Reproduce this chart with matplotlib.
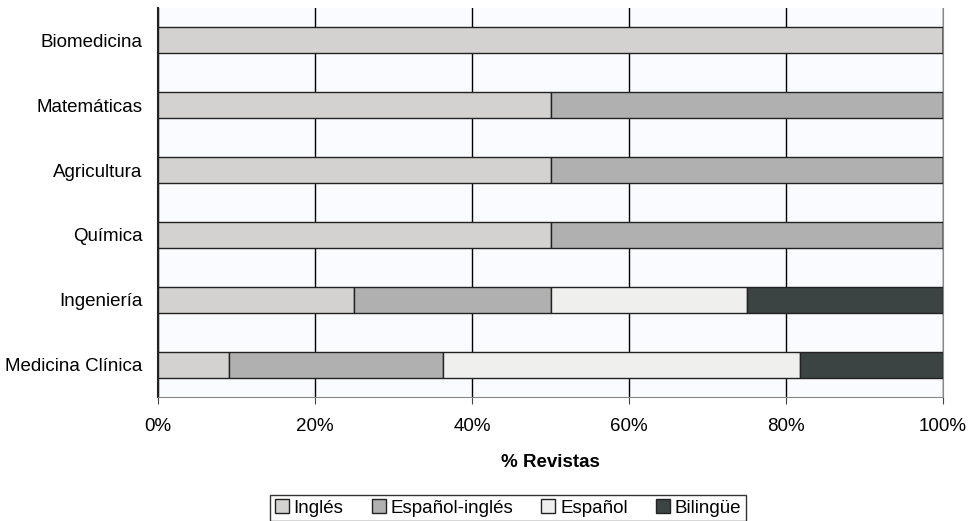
import matplotlib
matplotlib.use("Agg")
import matplotlib.pyplot as plt
import numpy as np

plt.rcParams['font.family'] = ['Liberation Sans', 'DejaVu Sans']

categorias = ["Biomedicina", "Matemáticas", "Agricultura", "Química", "Ingeniería", "Medicina Clínica"]
series = ["Inglés", "Español-inglés", "Español", "Bilingüe"]
ingles = [100, 50, 50, 50, 25, 100 / 11]
espanol_ingles = [0, 50, 50, 50, 25, 300 / 11]
espanol = [0, 0, 0, 0, 25, 500 / 11]
bilingue = [0, 0, 0, 0, 25, 200 / 11]
colores = ["#d4d2d0", "#afb0af", "#eff0ee", "#3b4343"]
xticks = [0, 20, 40, 60, 80, 100]

fig = plt.figure(figsize=(9.8, 5.21), dpi=100)
ax = fig.add_axes([158 / 980, 1 - 397 / 521, 785 / 980, 389 / 521])
ax.set_facecolor("#fafbff")

y = np.arange(len(categorias))[::-1]
left = np.zeros(len(categorias))
for nombre, vals, c in zip(series, [ingles, espanol_ingles, espanol, bilingue], colores):
    vals = np.array(vals)
    ax.barh(y, vals, left=left, height=0.4, color=c, edgecolor="#222222", linewidth=1.0,
            label=nombre, zorder=3)
    left += vals

fs = 13.5
ax.set_xlim(0, 100)
ax.set_ylim(-0.5, 5.5)
ax.set_xticks(xticks)
ax.set_xticklabels([f"{t}%" for t in xticks], fontsize=fs)
ax.set_yticks(y)
ax.set_yticklabels(categorias, fontsize=fs)
ax.tick_params(axis="y", length=0, pad=11)
ax.tick_params(axis="x", length=5, direction="out", color="#444444", pad=10)
ax.xaxis.grid(True, color="black", linewidth=1.0, zorder=0)
ax.set_axisbelow(True)

ax.spines["top"].set_visible(False)
ax.spines["right"].set_color("#888888")
ax.spines["bottom"].set_color("#888888")
ax.spines["left"].set_color("#222222")
ax.spines["left"].set_linewidth(1.5)

ax.set_xlabel("% Revistas", fontsize=fs, fontweight="bold", labelpad=14)

leg = ax.legend(loc="center", bbox_to_anchor=(508 / 980, 1 - 508 / 521), bbox_transform=fig.transFigure,
                ncol=4, frameon=True, fancybox=False, fontsize=fs, handlelength=0.75,
                handleheight=0.75, handletextpad=0.25, columnspacing=1.5, borderpad=0.25)
leg.get_frame().set_edgecolor("black")
leg.get_frame().set_linewidth(1.0)

fig.savefig("out.png", dpi=100)
